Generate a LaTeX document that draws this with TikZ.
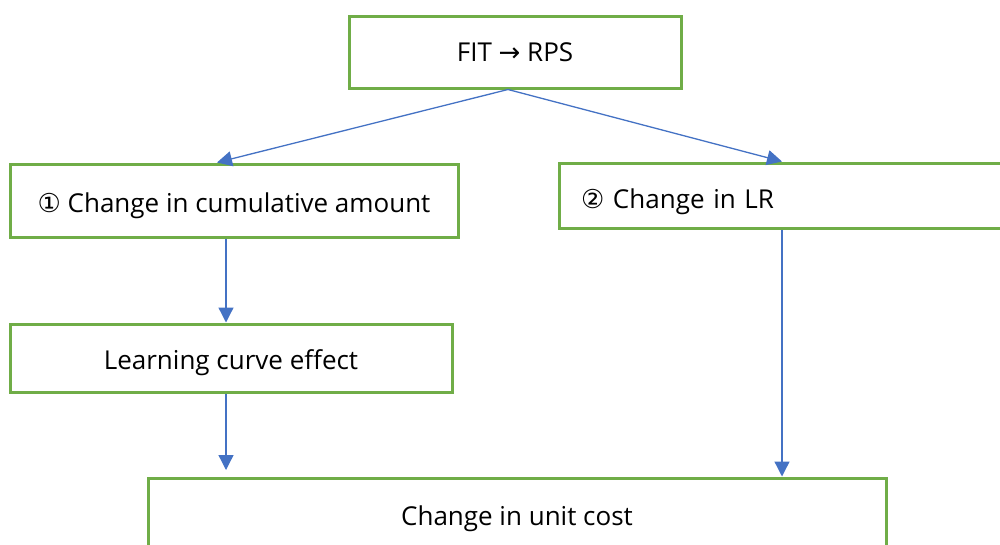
\documentclass[tikz,border=0pt]{standalone}
\usepackage{fontspec}
\setmainfont{Open Sans}
\newfontfamily\symfont{DejaVu Sans}
\usetikzlibrary{arrows.meta}
\definecolor{boxgreen}{HTML}{70AD47}
\definecolor{arrblue}{HTML}{4472C4}
\begin{document}
\begin{tikzpicture}[x=1pt,y=-1pt,
  box/.style={draw=boxgreen,line width=3pt,fill=white,inner sep=0pt,font=\fontsize{26}{30}\selectfont},
  low/.style={text height=26pt,text depth=3pt},
  arr/.style={draw=arrblue,line width=1.3pt,-{Triangle[length=15pt,width=15pt]}}]
\useasboundingbox (0,0) rectangle (1000,544);
\node[box,minimum width=332pt,minimum height=72pt] (top) at (515,52) {FIT {\symfont →} RPS};
\node[box,low,minimum width=448pt,minimum height=73pt] (cum) at (234,200.5) {{\symfont ①} Change in cumulative amount};
\node[box,text height=28pt,text depth=2pt,text width=416pt,inner xsep=22pt,align=left,minimum height=65pt] (lr) at (789,195.5) {{\symfont ②} Change in LR};
\node[box,low,minimum width=442pt,minimum height=68pt] (learn) at (231,358) {Learning curve effect};
\node[box,text height=24pt,text depth=4pt,minimum width=738pt,minimum height=74pt] (cost) at (517,515) {Change in unit cost};
\coordinate (xs) at (508,0);
\coordinate (xl) at (217,0);
\coordinate (xr) at (782,0);
\coordinate (xd) at (226,0);
\coordinate (gap) at (226,470);
\draw[arr] (top.south -| xs) -- (cum.north -| xl);
\draw[arr] (top.south -| xs) -- (lr.north -| xr);
\draw[arr] (cum.south -| xd) -- (learn.north -| xd);
\draw[arr] (learn.south -| xd) -- (gap);
\draw[arr] (lr.south -| xr) -- (cost.north -| xr);
\end{tikzpicture}
\end{document}
